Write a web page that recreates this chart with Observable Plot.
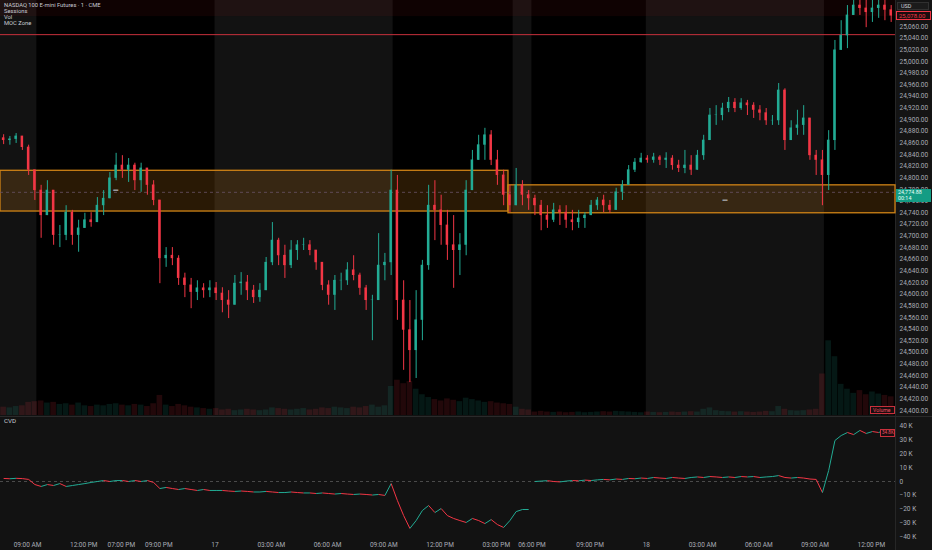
<!DOCTYPE html>
<html><head><meta charset="utf-8">
<script src="https://cdn.jsdelivr.net/npm/d3@7"></script>
<script src="https://cdn.jsdelivr.net/npm/@observablehq/plot@0.6"></script>
<style>
html,body{margin:0;padding:0;background:#121212;}
#wrap{position:relative;width:932px;height:550px;background:#121212;overflow:hidden;font-family:Roboto,"Noto Sans",sans-serif;}
.layer{position:absolute;left:0;}
.lbl{position:absolute;box-sizing:border-box;font-family:Roboto,sans-serif;white-space:nowrap;line-height:1;}
</style></head><body>
<div id="wrap">
 <div style="position:absolute;left:895px;top:0;width:37px;height:550px;background:#141414;border-left:1px solid #262626;box-sizing:border-box"></div>
 <div id="bg" class="layer" style="top:0"></div>
 <div id="price" class="layer" style="top:0"></div>
 <div style="position:absolute;left:0;top:416px;width:932px;height:1px;background:#2a2a2a"></div>
 <div id="cvd" class="layer" style="top:417px"></div>
 <div id="legend" class="lbl" style="left:4px;top:2px;font-size:5.8px;color:#c9ccd4;line-height:6.1px"></div>
 <div id="overlays"></div>
</div>
<script>
// ---------- DATA ----------
const title = "NASDAQ 100 E-mini Futures · 1 · CME";
const legendItems = ["Sessions", "Vol", "MOC Zone"];
const currency = "USD";
const cvdTitle = "CVD";
const volTitle = "Volume";

// trading hours counted from 09:00 AM of the first day (closed hours removed)
const firstBarHour = -1.44;
const barHours = 1 / 3;          // 20-minute buckets
const xDomain = [-1.44, 46.29];

const tickHours  = [0, 3, 5, 7, 10, 13, 16, 19, 22, 25, 26.9, 30, 33, 36, 39, 42, 45];
const tickLabels = ["09:00 AM","12:00 PM","07:00 PM","09:00 PM","17","03:00 AM","06:00 AM","09:00 AM","12:00 PM","03:00 PM","06:00 PM","09:00 PM","18","03:00 AM","06:00 AM","09:00 AM","12:00 PM"];

const sessionStart = [0.5, 19.5, 26.9, 42.5];
const sessionEnd   = [10, 25.9, 33, 46.29];

const zoneStart  = [-1.44, 25.65];
const zoneEnd    = [25.65, 46.29];
const zoneTop    = [24812, 24787];
const zoneBottom = [24742, 24739];
const zoneMid    = [24775, 24775];
const zoneTagHour  = [4.7, 37.2];
const zoneTagPrice = [24780, 24763];

const levelPrice = 25046;
const upperBandFrom = 25077;
const firstOpen = 24868;

const high = [24874,24871,24876,24869,24856,24813,24787,24795,24778,24718,
24752,24744,24727,24739,24740,24766,24778,24809,24842,24838,
24833,24825,24825,24813,24795,24761,24680,24680,24666,24636,
24627,24623,24618,24623,24620,24611,24606,24632,24637,24632,
24615,24618,24663,24723,24696,24684,24692,24692,24696,24692,
24675,24649,24623,24632,24636,24654,24666,24636,24615,24598,
24704,24670,24813,24804,24623,24589,24606,24658,24787,24795,
24770,24744,24735,24704,24795,24847,24873,24885,24881,24847,
24813,24787,24816,24795,24778,24770,24761,24752,24756,24752,
24752,24744,24744,24740,24761,24766,24770,24761,24782,24795,
24821,24833,24842,24838,24842,24838,24843,24838,24830,24847,
24838,24847,24873,24919,24924,24928,24938,24936,24936,24933,
24929,24924,24919,24907,24962,24953,24898,24916,24924,24898,
24847,24847,24881,25036,25070,25096,25112,25108,25115,25106,
25110,25109,25096];

const low = [24857,24856,24859,24847,24804,24761,24696,24735,24684,24680,
24692,24684,24672,24713,24715,24735,24735,24770,24795,24799,
24792,24778,24775,24770,24752,24618,24646,24649,24615,24594,
24575,24589,24593,24594,24589,24568,24558,24581,24598,24589,
24584,24586,24615,24649,24649,24627,24644,24658,24675,24666,
24641,24606,24581,24572,24606,24615,24623,24598,24572,24520,
24598,24623,24632,24555,24469,24448,24455,24520,24641,24692,
24684,24658,24610,24632,24666,24778,24830,24830,24821,24787,
24752,24740,24752,24752,24744,24735,24709,24713,24723,24718,
24713,24709,24713,24713,24735,24744,24740,24739,24752,24761,
24792,24809,24825,24825,24825,24821,24816,24813,24809,24807,
24804,24816,24830,24864,24890,24898,24912,24912,24916,24907,
24902,24898,24890,24890,24890,24847,24864,24873,24873,24830,
24804,24752,24778,24847,25019,25022,25079,25079,25058,25067,
25074,25070,25067];

const close = [24864,24866,24871,24852,24813,24778,24735,24778,24701,24701,
24740,24701,24713,24727,24723,24752,24764,24799,24821,24813,
24821,24795,24816,24787,24761,24661,24666,24661,24627,24615,
24603,24610,24606,24610,24601,24589,24581,24618,24620,24606,
24594,24606,24654,24692,24666,24649,24675,24684,24684,24675,
24654,24615,24598,24623,24623,24641,24632,24610,24589,24589,
24649,24654,24778,24589,24538,24503,24555,24649,24752,24744,
24718,24684,24675,24684,24778,24830,24856,24873,24830,24804,
24770,24752,24787,24770,24764,24752,24735,24727,24744,24740,
24727,24723,24730,24735,24752,24761,24752,24744,24775,24787,
24813,24826,24833,24830,24835,24830,24833,24821,24816,24821,
24813,24838,24864,24907,24907,24919,24929,24919,24928,24924,
24916,24911,24898,24898,24950,24864,24885,24890,24902,24838,
24830,24804,24864,25019,25044,25079,25096,25091,25084,25091,
25096,25088,25078];

const volume = [1200,1100,1300,1400,1900,2000,
2100,1800,1900,1600,1700,1500,1800,1400,1300,1500,1400,1600,1700,1500,1400,1600,1500,1300,1700,
2900,
1500,1300,1600,1400,1200,1100,1000,900,1000,
800,900,700,800,900,800,700,800,1100,1000,900,800,900,1000,800,900,1100,1000,1200,1100,1000,1200,1100,1300,1500,1200,1400,
4200,5100,4600,4900,3800,
3000,2600,2300,2100,2400,2200,2000,2500,2300,2100,1900,2000,1800,1700,
1600,1200,900,800,
500,600,500,450,500,400,450,500,400,450,500,550,500,600,550,500,450,400,
500,450,400,450,500,450,500,550,500,900,1100,700,600,550,500,550,500,450,500,600,550,1300,900,700,650,700,800,900,
6000,10800,8500,4500,3800,3200,3600,3000,3400,3100,2900,2700];

const cvd = [2200,2000,2300,2100,1500,-2200,-3600,
-2200,-2900,-1500,-3600,-2900,-2200,-1500,-700,
0,700,0,700,700,0,700,0,700,-700,
-5100,
-4300,-5100,-5800,-5100,-5800,-6500,-5800,-6500,-6500,
-6500,-6900,-7200,-6900,-7200,-7600,-7600,-7200,-7600,-8000,-8000,-7600,-8000,-8300,-8300,-8700,-8300,-8700,-9100,-8700,-9100,-9400,-9100,-9400,-9800,-9400,-10100,
-1500,-13800,-24700,-34000,-28300,-21000,-17400,-22500,-19600,-24700,-26800,-28300,-29700,-26800,-28300,-30500,-27600,-31200,-33300,-28300,-21800,-20300,-20300,
0,
300,600,0,-300,300,700,500,1000,700,1200,1500,1200,1800,1500,2200,
2000,2500,2200,2900,2500,2200,2900,2500,2200,2900,3300,2900,3600,3300,2900,
3300,2900,3600,3300,3600,2900,3300,3600,4300,2900,2500,2900,2500,1800,1500,
-8000,8000,29700,33300,35500,34000,37000,34800,36200,35500,37000,34800];
const cvdSessionStartIndex = 85;

const priceTicks = d3.range(24400, 25061, 20);
const cvdTicks = d3.range(-40000, 40001, 10000);
const greenTagText = ["24,774.88", "00:14"];

// ---------- BUILD ----------
const UP = "#22ab94", DOWN = "#f23645";
const bars = close.map((c, i) => {
  const o = i === 0 ? firstOpen : close[i - 1];
  return {t: firstBarHour + (i + 0.5) * barHours, o, c,
          h: Math.max(high[i], o, c), l: Math.min(low[i], o, c), v: volume[i], up: c >= o};
});
const sessions = sessionStart.map((s, i) => ({s, e: sessionEnd[i]}));
const zones = zoneStart.map((s, i) => ({s, e: zoneEnd[i], top: zoneTop[i], bot: zoneBottom[i], mid: zoneMid[i]}));
const zoneTags = zoneTagHour.map((t, i) => ({t, p: zoneTagPrice[i]}));
const labelMap = new Map(tickHours.map((h, i) => [h, tickLabels[i]]));
const half = barHours * 0.2;
const baseStyle = {background: "transparent", color: "#a9acb5", fontSize: "6.5px", fontFamily: "Roboto, sans-serif"};

const bgChart = Plot.plot({
  width: 932, height: 416, marginLeft: 0, marginRight: 37, marginTop: 0, marginBottom: 1,
  x: {domain: xDomain, axis: null},
  y: {domain: [0, 60000], axis: null},
  style: baseStyle,
  marks: [
    Plot.rect(sessions, {x1: "s", x2: "e", fill: "#000"}),
    Plot.rectY(bars, {x1: d => d.t - barHours * 0.45, x2: d => d.t + barHours * 0.45, y: "v",
      fill: d => d.up ? UP : DOWN, fillOpacity: 0.14})
  ]
});
document.getElementById("bg").appendChild(bgChart);

const priceChart = Plot.plot({
  width: 932, height: 416, marginLeft: 0, marginRight: 37, marginTop: 0, marginBottom: 1,
  x: {domain: xDomain, axis: null},
  y: {domain: [24391.4, 25104.7], axis: "right", ticks: priceTicks, tickSize: 0, tickPadding: 4,
      tickFormat: d3.format(",.2f"), label: null},
  style: baseStyle,
  marks: [
    Plot.rect([upperBandFrom], {x1: xDomain[0], x2: xDomain[1], y1: d => d, y2: 25104.7, fill: "#ff2a2a", fillOpacity: 0.06}),
    Plot.rect(zones, {x1: "s", x2: "e", y1: "bot", y2: "top", fill: "#f5961f", fillOpacity: 0.17, stroke: "#cf8316", strokeWidth: 1.3}),
    Plot.ruleY(zones, {x1: "s", x2: "e", y: "mid", stroke: "#6a5468", strokeWidth: 0.8, strokeDasharray: "3,3"}),
    Plot.text(zoneTags, {x: "t", y: "p", text: () => "▬", fill: "#9a9a9a", fontSize: 5}),
    Plot.ruleY([levelPrice], {stroke: "#c8303c", strokeWidth: 1}),
    Plot.ruleX(bars, {x: "t", y1: "l", y2: "h", stroke: d => d.up ? UP : DOWN, strokeWidth: 1}),
    Plot.rect(bars, {x1: d => d.t - half, x2: d => d.t + half, y1: d => Math.min(d.o, d.c), y2: d => Math.max(d.o, d.c) + 0.6,
      fill: d => d.up ? UP : DOWN})
  ]
});
document.getElementById("price").appendChild(priceChart);

const segs = [];
for (let i = 1; i < cvd.length; i++) {
  if (i === cvdSessionStartIndex) continue;
  segs.push({x1: bars[i - 1].t, y1: cvd[i - 1], x2: bars[i].t, y2: cvd[i], up: cvd[i] >= cvd[i - 1]});
}
const kfmt = d => d === 0 ? "0" : (d < 0 ? "\u2212" : "") + Math.abs(d / 1000) + " K";
const cvdChart = Plot.plot({
  width: 932, height: 133, marginLeft: 0, marginRight: 37, marginTop: 0, marginBottom: 10,
  x: {domain: xDomain, ticks: tickHours, tickFormat: d => labelMap.get(d) || "", tickSize: 0, tickPadding: 2, label: null},
  y: {domain: [-42754, 46377], axis: "right", ticks: cvdTicks, tickFormat: kfmt, tickSize: 0, tickPadding: 4, label: null},
  style: baseStyle,
  marks: [
    Plot.ruleY([0], {stroke: "#5a5a5a", strokeWidth: 0.8, strokeDasharray: "3,3"}),
    Plot.link(segs, {x1: "x1", y1: "y1", x2: "x2", y2: "y2", stroke: d => d.up ? UP : DOWN, strokeWidth: 1})
  ]
});
document.getElementById("cvd").appendChild(cvdChart);

// ---------- LABELS ----------
document.getElementById("legend").innerHTML = [title, ...legendItems].map(s => `<div>${s}</div>`).join("");
const py = priceChart.scale("y"), cy = cvdChart.scale("y");
const ov = document.getElementById("overlays");
function box(html, css) { const d = document.createElement("div"); d.className = "lbl"; d.style.cssText = css; d.innerHTML = html; ov.appendChild(d); }
const lastClose = close[close.length - 1];
box(currency, "left:897px;top:2px;width:32px;height:8px;background:#1b1b1b;border:1px solid #303030;color:#d1d4dc;font-size:5.5px;padding:1px 0 0 3px;");
box(d3.format(",.2f")(lastClose), `left:896px;top:${py.apply(lastClose) - 4.5}px;width:35px;height:9px;background:#1c0c0e;border:1px solid #f23645;color:#f23645;font-size:6px;padding:1.2px 0 0 2px;`);
box(greenTagText.map(s => `<div>${s}</div>`).join(""), `left:896px;top:${py.apply(zoneMid[1]) - 3}px;width:35px;height:13px;background:#139c84;color:#e8fff9;font-size:5.4px;padding:0.5px 0 0 2px;line-height:6px;`);
box(volTitle, `left:870px;top:${py.apply(24400) - 4}px;width:25px;height:8px;background:#1a0d0f;border:1px solid #c8303c;color:#f05060;font-size:5.2px;padding:1px 0 0 2px;`);
box(cvdTitle, "left:4px;top:418px;color:#c9ccd4;font-size:6.2px;");
const lastCvd = cvd[cvd.length - 1];
box(d3.format(".1f")(lastCvd / 1000) + "K", `left:880px;top:${417 + cy.apply(lastCvd) - 4}px;width:15px;height:8px;background:#1a0d0f;border:1px solid #c8303c;color:#f05060;font-size:4.6px;padding:1.2px 0 0 1px;`);
</script>
</body></html>
